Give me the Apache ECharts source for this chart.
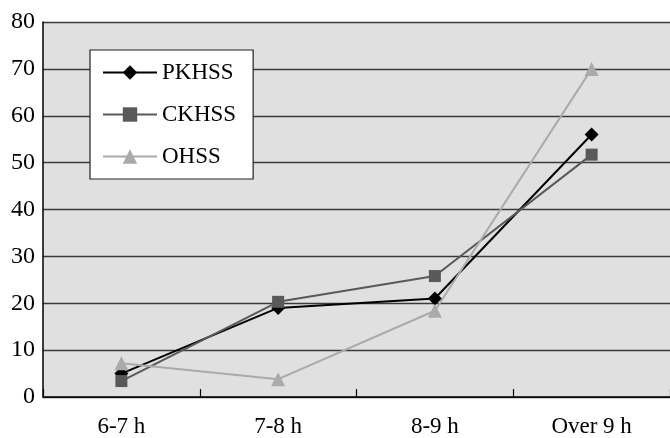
<!DOCTYPE html>
<html>
<head>
<meta charset="utf-8">
<script src="https://cdn.jsdelivr.net/npm/echarts@6/dist/echarts.min.js"></script>
<style>html,body{margin:0;padding:0;background:#fff}#c{width:670px;height:438px}</style>
</head>
<body>
<div id="c"></div>
<script>
var categories = ['6-7 h', '7-8 h', '8-9 h', 'Over 9 h'];
var pkhss = [5, 19, 21, 56];
var ckhss = [3.4, 20.3, 25.8, 51.7];
var ohss = [7.2, 3.8, 18.4, 70];
var yTicks = [0, 10, 20, 30, 40, 50, 60, 70, 80];

var font = 'Liberation Serif';
var chart = echarts.init(document.getElementById('c'));
function mk(name, data, color, symbol, size) {
  return {
    name: name, type: 'line', data: data, symbol: symbol, symbolSize: size,
    lineStyle: { color: color, width: 2 },
    itemStyle: { color: color },
    emphasis: { disabled: true },
    animation: false
  };
}
chart.setOption({
  animation: false,
  grid: { left: 43, right: -9, top: 22, bottom: 40, show: true, backgroundColor: '#e0e0e0', borderWidth: 0 },
  legend: {
    orient: 'vertical', left: 90, top: 50,
    backgroundColor: '#ffffff', borderColor: '#222', borderWidth: 1.2,
    padding: [11, 17, 11, 12], itemGap: 19, itemWidth: 54, itemHeight: 18,
    textStyle: { fontFamily: font, fontSize: 23, color: '#000' },
    data: ['PKHSS', 'CKHSS', 'OHSS']
  },
  xAxis: {
    type: 'category', data: categories, boundaryGap: true,
    axisLine: { lineStyle: { color: '#000', width: 1.5 } },
    axisTick: { show: true, inside: true, length: 8, lineStyle: { color: '#000', width: 1.2 } },
    axisLabel: { fontFamily: font, fontSize: 23, color: '#000', margin: 18 },
    splitLine: { show: false }
  },
  yAxis: {
    type: 'value', min: 0, max: 80, interval: 10,
    axisLine: { show: true, lineStyle: { color: '#000', width: 1.5 } },
    axisTick: { show: false },
    axisLabel: { fontFamily: font, fontSize: 24, color: '#000', margin: 8,
      formatter: function (v) { return yTicks.indexOf(v) >= 0 ? String(v) : ''; } },
    splitLine: { show: true, lineStyle: { color: '#3a3a3a', width: 1.3 } }
  },
  series: [
    mk('PKHSS', pkhss, '#000000', 'diamond', 14),
    mk('CKHSS', ckhss, '#595959', 'rect', 12),
    mk('OHSS', ohss, '#aaaaaa', 'triangle', 14)
  ]
});
</script>
</body>
</html>
